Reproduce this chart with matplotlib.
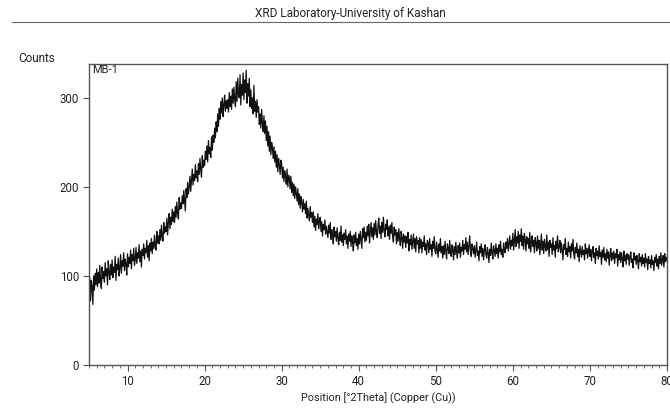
import numpy as np
import matplotlib
matplotlib.use("Agg")
import matplotlib.pyplot as plt
from matplotlib.ticker import MultipleLocator

plt.rcParams['font.family'] = ['Roboto', 'DejaVu Sans']

# ---- data ----
title = "XRD Laboratory-University of Kashan"
sample_name = "MB-1"
x_label = "Position [°2Theta] (Copper (Cu))"
y_label = "Counts"
x_ticks = [10, 20, 30, 40, 50, 60, 70, 80]
y_ticks = [0, 100, 200, 300]
two_theta_start = 5.0
two_theta_step = 0.1

counts = [
    80, 98, 72, 95, 88, 68, 100, 84, 103, 90,          # 5
    108, 88, 104, 92, 112, 95, 86, 110, 97, 105,       # 6
    93, 115, 100, 108, 90, 117, 104, 96, 113, 101,     # 7
    118, 98, 110, 104, 122, 95, 113, 107, 120, 100,    # 8
    109, 124, 103, 117, 111, 126, 106, 119, 113, 101,  # 9
    125, 110, 121, 114, 129, 108, 124, 117, 131, 112,  # 10
    118, 132, 114, 126, 120, 135, 116, 128, 110, 130,  # 11
    123, 136, 119, 131, 126, 140, 121, 134, 117, 137,  # 12
    128, 142, 125, 138, 131, 146, 134, 129, 150, 137,  # 13
    145, 136, 152, 140, 157, 144, 139, 160, 148, 155,  # 14
    150, 165, 146, 160, 170, 153, 166, 158, 175, 161,  # 15
    172, 160, 178, 166, 183, 171, 164, 188, 175, 182,  # 16
    176, 190, 181, 196, 185, 173, 198, 188, 205, 192,  # 17
    200, 212, 195, 208, 220, 202, 214, 207, 225, 210,  # 18
    218, 206, 226, 214, 232, 219, 211, 235, 222, 230,  # 19
    224, 240, 231, 246, 228, 252, 237, 244, 233, 256,  # 20
    241, 258, 250, 266, 255, 273, 262, 282, 268, 288,  # 21
    276, 296, 283, 300, 279, 292, 303, 285, 297, 288,  # 22
    298, 284, 306, 290, 302, 287, 310, 294, 312, 298,  # 23
    290, 318, 296, 322, 304, 300, 326, 292, 315, 303,  # 24
    328, 298, 320, 306, 331, 294, 316, 302, 322, 290,  # 25
    309, 288, 300, 282, 314, 285, 296, 278, 298, 284,  # 26
    290, 270, 282, 266, 287, 272, 262, 280, 260, 274,  # 27
    252, 268, 246, 262, 240, 257, 236, 250, 244, 232,  # 28
    245, 228, 240, 222, 236, 217, 232, 225, 214, 230,  # 29
    226, 210, 222, 206, 218, 212, 203, 220, 200, 213,  # 30
    210, 198, 212, 194, 205, 190, 203, 187, 200, 193,  # 31
    184, 198, 180, 192, 176, 189, 183, 172, 186, 175,  # 32
    181, 170, 184, 165, 176, 168, 162, 178, 166, 171,  # 33
    160, 172, 155, 167, 151, 164, 158, 170, 153, 162,  # 34
    166, 150, 161, 145, 158, 152, 163, 147, 156, 149,  # 35
    143, 157, 148, 160, 141, 152, 146, 136, 155, 144,  # 36
    150, 139, 154, 143, 135, 149, 140, 156, 138, 146,  # 37
    134, 148, 141, 152, 136, 145, 131, 147, 139, 150,  # 38
    133, 145, 138, 128, 146, 137, 149, 134, 142, 130,  # 39
    147, 136, 150, 141, 131, 153, 143, 155, 138, 149,  # 40
    140, 156, 145, 158, 137, 150, 160, 144, 154, 141,  # 41
    159, 146, 162, 150, 143, 157, 165, 148, 156, 142,  # 42
    160, 149, 166, 151, 144, 158, 152, 163, 145, 155,  # 43
    141, 157, 148, 160, 144, 138, 155, 146, 152, 136,  # 44
    149, 139, 153, 142, 134, 150, 143, 131, 147, 138,  # 45
    145, 132, 144, 137, 149, 128, 141, 135, 146, 130,  # 46
    139, 147, 131, 142, 127, 144, 136, 140, 126, 143,  # 47
    131, 141, 126, 138, 133, 145, 129, 136, 124, 140,  # 48
    137, 126, 142, 130, 135, 122, 139, 131, 144, 128,  # 49
    125, 138, 130, 121, 136, 128, 142, 126, 133, 120,  # 50
    134, 124, 139, 128, 119, 136, 131, 125, 140, 127,  # 51
    122, 135, 129, 118, 133, 124, 138, 127, 120, 134,  # 52
    126, 137, 121, 132, 128, 140, 124, 135, 130, 143,  # 53
    127, 138, 124, 133, 145, 129, 122, 136, 131, 125,  # 54
    134, 121, 130, 138, 123, 128, 117, 133, 126, 136,  # 55
    122, 131, 118, 129, 135, 124, 120, 132, 126, 115,  # 56
    130, 123, 137, 126, 119, 134, 128, 122, 136, 125,  # 57
    131, 120, 135, 127, 139, 124, 130, 121, 137, 129,  # 58
    126, 138, 131, 142, 128, 136, 145, 130, 140, 134,  # 59
    148, 129, 141, 152, 133, 144, 137, 150, 131, 146,  # 60
    139, 153, 134, 145, 130, 148, 141, 128, 144, 136,  # 61
    142, 131, 149, 127, 138, 145, 133, 140, 126, 143,  # 62
    137, 128, 145, 131, 140, 124, 136, 147, 129, 139,  # 63
    125, 141, 133, 128, 146, 130, 138, 122, 140, 132,  # 64
    136, 124, 143, 129, 134, 121, 139, 131, 145, 127,  # 65
    133, 140, 126, 137, 129, 118, 135, 130, 142, 124,  # 66
    131, 122, 138, 127, 133, 120, 136, 128, 141, 125,  # 67
    119, 132, 126, 137, 122, 130, 116, 134, 127, 121,  # 68
    133, 124, 129, 118, 136, 125, 131, 120, 128, 135,  # 69
    122, 130, 117, 127, 133, 121, 126, 114, 131, 123,  # 70
    128, 119, 134, 122, 126, 113, 129, 121, 132, 118,  # 71
    125, 116, 130, 120, 127, 112, 124, 131, 117, 126,  # 72
    119, 128, 114, 125, 121, 130, 111, 124, 118, 127,  # 73
    115, 126, 120, 110, 128, 117, 123, 113, 125, 119,  # 74
    124, 112, 121, 127, 115, 119, 109, 126, 118, 122,  # 75
    113, 123, 117, 108, 125, 116, 121, 111, 124, 114,  # 76
    120, 110, 125, 115, 119, 107, 122, 114, 118, 109,  # 77
    123, 113, 117, 106, 121, 115, 124, 111, 119, 108,  # 78
    122, 114, 126, 112, 118, 123, 110, 125, 116, 121,  # 79
    117,                                               # 80
]

two_theta = two_theta_start + two_theta_step * np.arange(len(counts))

W, H = 670, 416
fig = plt.figure(figsize=(W / 100, H / 100), dpi=100)
fig.patch.set_facecolor('white')

ax_left, ax_right, ax_top, ax_bottom = 89, 667, 64, 365
ax = fig.add_axes([ax_left / W, 1 - ax_bottom / H,
                   (ax_right - ax_left) / W, (ax_bottom - ax_top) / H])

ax.plot(two_theta, counts, color='#111111', linewidth=0.9)

ax.set_xlim(5, 80)
ax.set_ylim(0, 338)
ax.set_xticks(x_ticks)
ax.set_yticks(y_ticks)
ax.xaxis.set_minor_locator(MultipleLocator(1))

spine_color = '#555555'
for s in ax.spines.values():
    s.set_color(spine_color)
    s.set_linewidth(1.0)

ax.tick_params(axis='both', which='major', direction='out', length=4,
               width=0.8, color=spine_color, labelsize=8.3, labelcolor='#222222', pad=3)
ax.tick_params(axis='x', which='minor', direction='out', length=2.5,
               width=0.6, color=spine_color)
ax.tick_params(axis='x', which='major', pad=3.5)

ax.set_xlabel(x_label, fontsize=7.8, color='#222222', labelpad=3)

ax.text(0.006, 0.997, sample_name, transform=ax.transAxes, ha='left', va='top',
        fontsize=8, color='#222222')

fig.text(18 / W, 1 - 58 / H, y_label, ha='left', va='center', fontsize=8.5, color='#222222')
fig.text(350 / W, 1 - 13 / H, title, ha='center', va='center', fontsize=8.5, color='#222222')
fig.add_artist(plt.Line2D([12 / W, 1.0], [1 - 22 / H, 1 - 22 / H],
                          transform=fig.transFigure, color='#666666', linewidth=0.8))

fig.savefig('out.png', dpi=100, facecolor='white')
